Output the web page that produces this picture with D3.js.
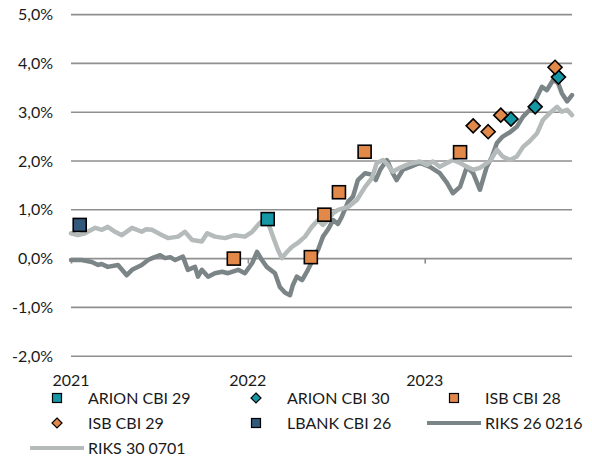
<!DOCTYPE html>
<html>
<head>
<meta charset="utf-8">
<script src="https://cdn.jsdelivr.net/npm/d3@7"></script>
<style>
	body { margin: 0; background: #fff; }
	text { font-family: Lato, "Open Sans", sans-serif; }
</style>
</head>
<body>
<script>
/* Data
***********************************************************************/
var yearTicks = ["2021-01-01", "2022-01-01", "2023-01-01"];
var yTicks = [-2, -1, 0, 1, 2, 3, 4, 5];

// RIKS 26 0216 (dark line)
var riks26 = [
	["2021-01-01", -0.03], ["2021-01-23", -0.03], ["2021-02-13", -0.07], ["2021-02-26", -0.13],
	["2021-03-05", -0.11], ["2021-03-18", -0.17], ["2021-04-08", -0.13], ["2021-04-26", -0.34],
	["2021-05-07", -0.23], ["2021-05-27", -0.13], ["2021-06-09", -0.03], ["2021-06-20", 0.02],
	["2021-07-04", 0.07], ["2021-07-14", 0.01], ["2021-07-25", 0.03], ["2021-08-04", -0.03],
	["2021-08-20", 0.04], ["2021-08-30", -0.23], ["2021-09-14", -0.17], ["2021-09-20", -0.37],
	["2021-09-28", -0.23], ["2021-10-11", -0.37], ["2021-10-25", -0.30], ["2021-11-09", -0.27],
	["2021-11-21", -0.30], ["2021-12-12", -0.23], ["2021-12-26", -0.30], ["2022-01-10", -0.09],
	["2022-01-20", 0.14], ["2022-01-30", -0.03], ["2022-02-09", -0.17], ["2022-02-26", -0.30],
	["2022-03-08", -0.58], ["2022-03-19", -0.70], ["2022-03-29", -0.75], ["2022-04-04", -0.54],
	["2022-04-12", -0.37], ["2022-04-23", -0.44], ["2022-05-05", -0.23], ["2022-05-15", -0.03],
	["2022-05-26", 0.18], ["2022-06-05", 0.45], ["2022-06-15", 0.59], ["2022-06-26", 0.79],
	["2022-07-06", 0.71], ["2022-07-14", 0.86], ["2022-07-27", 1.17], ["2022-08-06", 1.27],
	["2022-08-16", 1.61], ["2022-08-31", 1.75], ["2022-09-14", 1.72], ["2022-09-22", 1.61],
	["2022-10-01", 1.82], ["2022-10-15", 2.02], ["2022-10-27", 1.75], ["2022-11-04", 1.61],
	["2022-11-17", 1.82], ["2022-12-02", 1.88], ["2022-12-22", 1.96], ["2023-01-12", 1.88],
	["2023-02-01", 1.75], ["2023-02-16", 1.55], ["2023-02-28", 1.34], ["2023-03-15", 1.47],
	["2023-03-29", 1.88], ["2023-04-11", 1.75], ["2023-04-25", 1.41], ["2023-05-09", 1.88],
	["2023-05-20", 2.09], ["2023-05-30", 2.37], ["2023-06-11", 2.50], ["2023-06-26", 2.59],
	["2023-07-10", 2.70], ["2023-07-23", 2.91], ["2023-08-06", 3.05], ["2023-08-21", 3.32],
	["2023-08-31", 3.52], ["2023-09-10", 3.45], ["2023-09-23", 3.66], ["2023-10-03", 3.60],
	["2023-10-11", 3.39], ["2023-10-22", 3.22], ["2023-11-01", 3.35]
];

// RIKS 30 0701 (light line)
var riks30 = [
	["2021-01-01", 0.52], ["2021-01-15", 0.48], ["2021-01-30", 0.52], ["2021-02-20", 0.63],
	["2021-03-06", 0.59], ["2021-03-18", 0.65], ["2021-04-02", 0.55], ["2021-04-16", 0.48],
	["2021-05-07", 0.63], ["2021-05-27", 0.55], ["2021-06-05", 0.60], ["2021-06-17", 0.59],
	["2021-07-08", 0.48], ["2021-07-20", 0.42], ["2021-08-10", 0.45], ["2021-08-24", 0.55],
	["2021-09-08", 0.38], ["2021-09-28", 0.35], ["2021-10-09", 0.52], ["2021-10-25", 0.45],
	["2021-11-15", 0.42], ["2021-12-05", 0.48], ["2021-12-26", 0.45], ["2022-01-10", 0.55],
	["2022-01-22", 0.69], ["2022-02-01", 0.79], ["2022-02-12", 0.73], ["2022-02-22", 0.45],
	["2022-03-04", 0.18], ["2022-03-12", 0.01], ["2022-03-23", 0.14], ["2022-04-02", 0.24],
	["2022-04-14", 0.32], ["2022-04-29", 0.45], ["2022-05-13", 0.65], ["2022-05-26", 0.79],
	["2022-06-05", 0.69], ["2022-06-15", 0.79], ["2022-06-26", 0.93], ["2022-07-06", 1.00],
	["2022-07-27", 1.06], ["2022-08-14", 1.20], ["2022-08-31", 1.47], ["2022-09-14", 1.65],
	["2022-09-24", 1.96], ["2022-10-07", 2.02], ["2022-10-17", 1.92], ["2022-10-27", 1.78],
	["2022-11-11", 1.86], ["2022-11-25", 1.92], ["2022-12-08", 1.96], ["2022-12-22", 1.99],
	["2023-01-06", 1.92], ["2023-01-18", 1.99], ["2023-02-01", 1.88], ["2023-02-16", 1.96],
	["2023-02-28", 2.02], ["2023-03-15", 1.96], ["2023-03-29", 1.88], ["2023-04-11", 1.82],
	["2023-04-25", 1.86], ["2023-05-16", 2.00], ["2023-05-30", 2.23], ["2023-06-11", 2.09],
	["2023-06-26", 2.02], ["2023-07-10", 2.09], ["2023-07-23", 2.29], ["2023-08-06", 2.41],
	["2023-08-21", 2.57], ["2023-09-02", 2.84], ["2023-09-16", 2.98], ["2023-10-01", 3.11],
	["2023-10-11", 3.01], ["2023-10-22", 3.05], ["2023-11-01", 2.94]
];

// Bond issues (markers)
var arionCbi29 = [["2022-02-11", 0.81]];
var arionCbi30 = [["2023-06-28", 2.86], ["2023-08-17", 3.11], ["2023-10-04", 3.72]];
var isbCbi28 = [
	["2021-12-03", 0.00], ["2022-05-11", 0.03], ["2022-06-08", 0.90],
	["2022-07-08", 1.36], ["2022-08-30", 2.19], ["2023-03-15", 2.18]
];
var isbCbi29 = [["2023-04-11", 2.72], ["2023-05-12", 2.60], ["2023-06-07", 2.94], ["2023-09-27", 3.92]];
var lbankCbi26 = [["2021-01-19", 0.69]];


/* Setup
***********************************************************************/
var svgW = 592;
var svgH = 459;
var parseDate = d3.timeParse("%Y-%m-%d");

var teal = "#1597a6";
var orange = "#e2894a";
var navy = "#32587c";
var darkGrey = "#7b8486";
var lightGrey = "#b5baba";
var gridCol = "#8f8f8f";

var svg = d3.select("body").append("svg")
	.attr("width", svgW)
	.attr("height", svgH);

var xScale = d3.scaleTime()
	.domain([parseDate("2021-01-01"), parseDate("2023-11-01")])
	.range([71, 572]);

var yScale = d3.scaleLinear()
	.domain([-2, 5])
	.range([356.2, 14.6]);

var pctFormat = d3.formatLocale({decimal: ",", thousands: ".", grouping: [3], currency: ["", ""], minus: "-"}).format(".1f");


/* Grid and axes
***********************************************************************/
var gridGroup = svg.append("g").attr("id", "grid");

gridGroup.selectAll("line")
	.data(yTicks)
	.enter().append("line")
	.attr("x1", xScale.range()[0])
	.attr("x2", xScale.range()[1])
	.attr("y1", function(d) { return yScale(d); })
	.attr("y2", function(d) { return yScale(d); })
	.attr("stroke", gridCol)
	.attr("stroke-width", 1.6);

// y labels
gridGroup.selectAll("text")
	.data(yTicks)
	.enter().append("text")
	.attr("x", 53)
	.attr("y", function(d) { return yScale(d); })
	.attr("dy", "0.35em")
	.attr("text-anchor", "end")
	.attr("font-size", "16px")
	.attr("fill", "#1a1a1a")
	.text(function(d) { return pctFormat(d) + "%"; });

// small year ticks on the zero line, labels sit low under the plot
var xAxis = d3.axisBottom(xScale)
	.tickValues(yearTicks.map(parseDate))
	.tickSize(5)
	.tickFormat("");

svg.append("g")
	.attr("transform", "translate(0," + yScale(0) + ")")
	.call(xAxis)
	.call(function(g) {
		g.select(".domain").remove();
		g.selectAll(".tick line").attr("stroke", gridCol).attr("stroke-width", 1.6);
	});

svg.append("g").selectAll("text")
	.data(yearTicks)
	.enter().append("text")
	.attr("x", function(d) { return xScale(parseDate(d)); })
	.attr("y", 386)
	.attr("text-anchor", "middle")
	.attr("font-size", "16px")
	.attr("fill", "#1a1a1a")
	.text(function(d) { return d.slice(0, 4); });


/* Lines
***********************************************************************/
var lineGen = d3.line()
	.x(function(d) { return xScale(parseDate(d[0])); })
	.y(function(d) { return yScale(d[1]); });

function drawLine(data, colour) {
	svg.append("path")
		.attr("d", lineGen(data))
		.attr("fill", "none")
		.attr("stroke", colour)
		.attr("stroke-width", 4.5)
		.attr("stroke-linejoin", "round")
		.attr("stroke-linecap", "round");
}

drawLine(riks26, darkGrey);
drawLine(riks30, lightGrey);


/* Markers
***********************************************************************/
var markGroup = svg.append("g").attr("id", "markers");

function drawSquares(data, colour, size) {
	markGroup.append("g").selectAll("rect")
		.data(data)
		.enter().append("rect")
		.attr("x", function(d) { return xScale(parseDate(d[0])) - size / 2; })
		.attr("y", function(d) { return yScale(d[1]) - size / 2; })
		.attr("width", size)
		.attr("height", size)
		.attr("fill", colour)
		.attr("stroke", "#000")
		.attr("stroke-width", 1.6);
}

function drawDiamonds(data, colour, r) {
	markGroup.append("g").selectAll("path")
		.data(data)
		.enter().append("path")
		.attr("transform", function(d) {
			return "translate(" + xScale(parseDate(d[0])) + "," + yScale(d[1]) + ")";
		})
		.attr("d", "M0," + (-r) + "L" + r + ",0L0," + r + "L" + (-r) + ",0Z")
		.attr("fill", colour)
		.attr("stroke", "#000")
		.attr("stroke-width", 1.6);
}

drawSquares(arionCbi29, teal, 13);
drawDiamonds(arionCbi30, teal, 7);
drawSquares(isbCbi28, orange, 13);
drawDiamonds(isbCbi29, orange, 7);
drawSquares(lbankCbi26, navy, 13);


/* Legend
***********************************************************************/
var legendItems = [
	{name: "ARION CBI 29", type: "square", colour: teal, col: 0, row: 0},
	{name: "ARION CBI 30", type: "diamond", colour: teal, col: 1, row: 0},
	{name: "ISB CBI 28", type: "square", colour: orange, col: 2, row: 0},
	{name: "ISB CBI 29", type: "diamond", colour: orange, col: 0, row: 1},
	{name: "LBANK CBI 26", type: "square", colour: navy, col: 1, row: 1},
	{name: "RIKS 26 0216", type: "line", colour: darkGrey, col: 2, row: 1},
	{name: "RIKS 30 0701", type: "line", colour: lightGrey, col: 0, row: 2}
];
var legendTextX = [88, 287, 485];
var legendRowY = [398, 423, 448];

var legend = svg.append("g").attr("id", "legend");

legendItems.forEach(function(item) {
	var tx = legendTextX[item.col];
	var cy = legendRowY[item.row];
	var cx = tx - 31;
	if (item.type == "square") {
		legend.append("rect")
			.attr("x", cx - 4.5).attr("y", cy - 4.5)
			.attr("width", 9).attr("height", 9)
			.attr("fill", item.colour)
			.attr("stroke", "#000")
			.attr("stroke-width", 1.2);
	}
	else if (item.type == "diamond") {
		legend.append("path")
			.attr("transform", "translate(" + cx + "," + cy + ")")
			.attr("d", "M0,-5L5,0L0,5L-5,0Z")
			.attr("fill", item.colour)
			.attr("stroke", "#000")
			.attr("stroke-width", 1.2);
	}
	else {
		legend.append("line")
			.attr("x1", tx - 58).attr("x2", tx - 4)
			.attr("y1", cy).attr("y2", cy)
			.attr("stroke", item.colour)
			.attr("stroke-width", 4);
	}
	legend.append("text")
		.attr("x", tx)
		.attr("y", cy)
		.attr("dy", "0.35em")
		.attr("font-size", "16px")
		.attr("fill", "#1a1a1a")
		.text(item.name);
});
</script>
</body>
</html>
